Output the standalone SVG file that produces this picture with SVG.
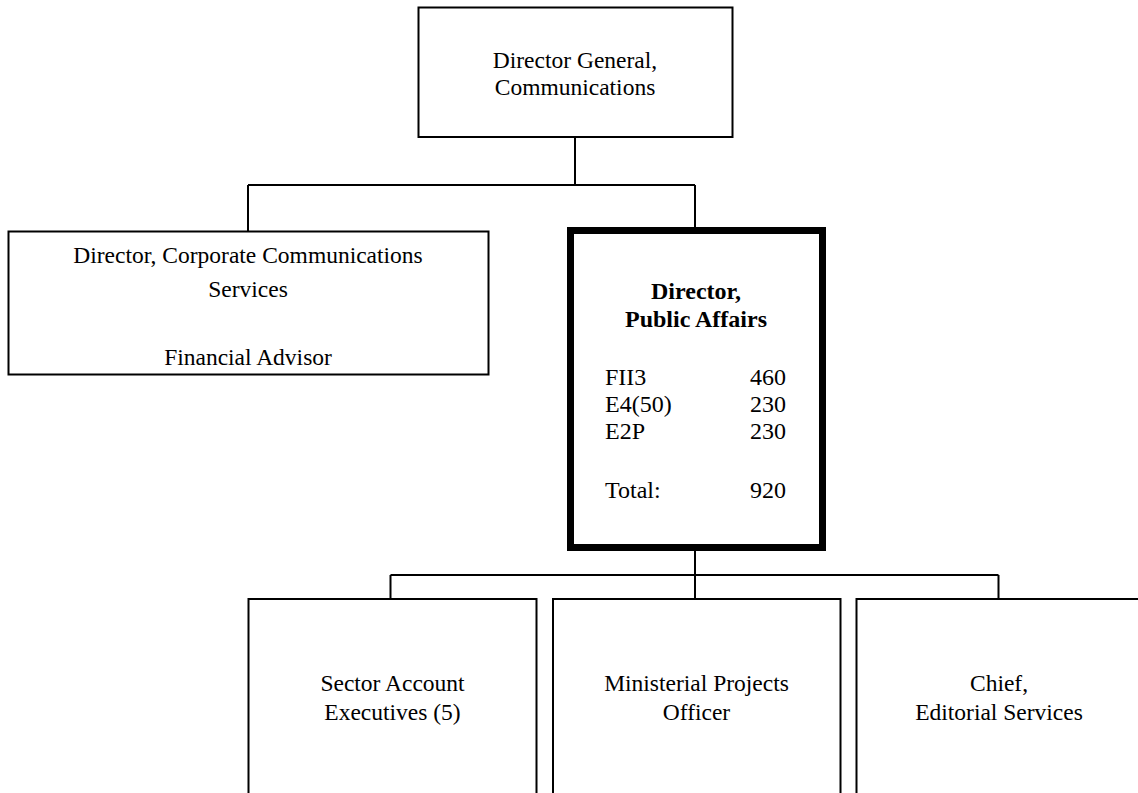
<svg xmlns="http://www.w3.org/2000/svg" width="1138" height="793" viewBox="0 0 1138 793">
  <style>
    .box { fill: #ffffff; stroke: #000000; stroke-width: 2; }
    .box-key { fill: #ffffff; stroke: #000000; stroke-width: 7; }
    .link { fill: none; stroke: #000000; stroke-width: 2; }
    text { font-family: "Liberation Serif", "Times New Roman", serif; font-size: 23.5px; fill: #000000; }
    .c { text-anchor: middle; }
    .b { font-weight: bold; font-size: 24px; }
    .num { text-anchor: end; font-size: 24px; }
    .lbl { font-size: 24px; }
  </style>
  <rect width="1138" height="793" fill="#ffffff"/>

  <!-- reporting lines -->
  <g id="connectors">
    <path class="link" d="M575,137 V185 M248,185 H695 M248,185 V231 M695,185 V227"/>
    <path class="link" d="M695,551 V575 M390.5,575 H998.5 M390.5,575 V599 M695,575 V599 M998.5,575 V599"/>
  </g>

  <g id="dg-communications">
    <rect class="box" x="418.5" y="7.5" width="314" height="129.5"/>
    <text class="c" x="575" y="68">Director General,</text>
    <text class="c" x="575" y="95">Communications</text>
  </g>

  <g id="corporate-communications">
    <rect class="box" x="8.5" y="231.5" width="480" height="143"/>
    <text class="c" x="248" y="263">Director, Corporate Communications</text>
    <text class="c" x="248" y="297">Services</text>
    <text class="c" x="248" y="365">Financial Advisor</text>
  </g>

  <g id="public-affairs">
    <rect class="box-key" x="570.5" y="230.5" width="252" height="317"/>
    <text class="c b" x="696" y="299">Director,</text>
    <text class="c b" x="696" y="327">Public Affairs</text>
    <text class="lbl" x="605" y="385">FII3</text>
    <text class="num" x="786" y="385">460</text>
    <text class="lbl" x="605" y="412">E4(50)</text>
    <text class="num" x="786" y="412">230</text>
    <text class="lbl" x="605" y="439">E2P</text>
    <text class="num" x="786" y="439">230</text>
    <text class="lbl" x="605" y="498">Total:</text>
    <text class="num" x="786" y="498">920</text>
  </g>

  <g id="sector-account-executives">
    <rect class="box" x="248.5" y="599" width="288" height="220"/>
    <text class="c" x="392.5" y="691">Sector Account</text>
    <text class="c" x="392.5" y="720">Executives (5)</text>
  </g>

  <g id="ministerial-projects">
    <rect class="box" x="553" y="599" width="287.5" height="220"/>
    <text class="c" x="696.5" y="691">Ministerial Projects</text>
    <text class="c" x="696.5" y="720">Officer</text>
  </g>

  <g id="editorial-services">
    <rect class="box" x="856.5" y="599" width="285" height="220"/>
    <text class="c" x="999" y="691">Chief,</text>
    <text class="c" x="999" y="720">Editorial Services</text>
  </g>
</svg>
